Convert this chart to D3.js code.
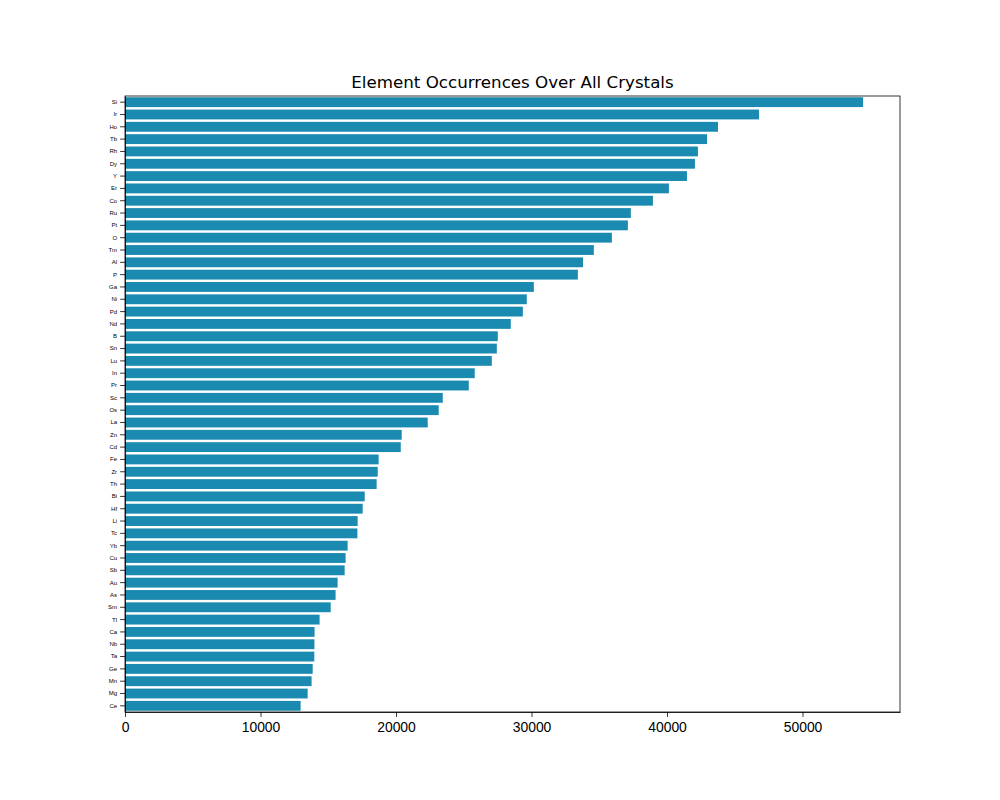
<!DOCTYPE html>
<html>
<head>
<meta charset="utf-8">
<script src="https://cdn.jsdelivr.net/npm/d3@7"></script>
<style>
  body { margin: 0; background: #fff; }
  svg { font-family: "DejaVu Sans", sans-serif; }
  .axis path, .axis line { stroke: #000; stroke-width: 0.8; }
  .axis text { fill: #000; }
</style>
</head>
<body>
<div id="chart"></div>
<script>
// ============================================================
// Data
// ============================================================
const elements = [
    'Si', 'Ir', 'Ho', 'Tb', 'Rh', 'Dy', 'Y', 'Er', 'Co', 'Ru',
    'Pt', 'O', 'Tm', 'Al', 'P', 'Ga', 'Ni', 'Pd', 'Nd', 'B',
    'Sn', 'Lu', 'In', 'Pr', 'Sc', 'Os', 'La', 'Zn', 'Cd', 'Fe',
    'Zr', 'Th', 'Bi', 'Hf', 'Li', 'Tc', 'Yb', 'Cu', 'Sb', 'Au',
    'As', 'Sm', 'Tl', 'Ca', 'Nb', 'Ta', 'Ge', 'Mn', 'Mg', 'Ce'
];
const occurrences = [
    54470, 46790, 43760, 42950, 42280, 42060, 41470, 40140, 38960, 37330,
    37110, 35930, 34600, 33800, 33420, 30170, 29650, 29360, 28470, 27510,
    27440, 27070, 25810, 25370, 23450, 23150, 22340, 20420, 20350, 18720,
    18650, 18570, 17690, 17540, 17170, 17150, 16430, 16280, 16210, 15690,
    15540, 15180, 14360, 13990, 13980, 13970, 13850, 13770, 13480, 12960
];
const xTicks = [0, 10000, 20000, 30000, 40000, 50000];

const BAR_COLOR = '#1b8ab0';

// ============================================================
// Layout
// ============================================================
const W = 1000, H = 800;
const margin = { left: 125, right: 100, top: 96, bottom: 88 };
const width = W - margin.left - margin.right;
const height = H - margin.top - margin.bottom;

const svg = d3.select('#chart')
    .append('svg')
    .attr('width', W)
    .attr('height', H);

const g = svg.append('g')
    .attr('transform', `translate(${margin.left}, ${margin.top})`);

const xMax = d3.max(occurrences) * 1.05;
const x = d3.scaleLinear().domain([0, xMax]).range([0, width]);
const y = d3.scaleBand()
    .domain(elements)
    .range([0, height])
    .paddingInner(0.2)
    .paddingOuter(0.1);

// bars
g.selectAll('rect.bar')
    .data(elements.map((e, i) => ({ name: e, value: occurrences[i] })))
    .enter()
    .append('rect')
    .attr('class', 'bar')
    .attr('x', x(0))
    .attr('y', d => y(d.name))
    .attr('width', d => x(d.value) - x(0))
    .attr('height', y.bandwidth())
    .attr('fill', BAR_COLOR);

// X axis
const xAxis = g.append('g')
    .attr('class', 'axis')
    .attr('transform', `translate(0, ${height})`)
    .call(d3.axisBottom(x).tickValues(xTicks).tickFormat(d3.format('d'))
        .tickSizeInner(4.9).tickSizeOuter(0).tickPadding(4.9));
xAxis.selectAll('text').style('font-size', '13.9px');

// Y axis
const yAxis = g.append('g')
    .attr('class', 'axis')
    .call(d3.axisLeft(y).tickSizeInner(4.9).tickSizeOuter(0).tickPadding(3));
yAxis.selectAll('text').style('font-size', '6px');

// frame (top/right spines)
g.append('rect')
    .attr('x', 0)
    .attr('y', 0)
    .attr('width', width)
    .attr('height', height)
    .attr('fill', 'none')
    .attr('stroke', '#000')
    .attr('stroke-width', 0.8);

// title
svg.append('text')
    .attr('x', margin.left + width / 2)
    .attr('y', margin.top - 8)
    .attr('text-anchor', 'middle')
    .style('font-size', '16.7px')
    .text('Element Occurrences Over All Crystals');
</script>
</body>
</html>
